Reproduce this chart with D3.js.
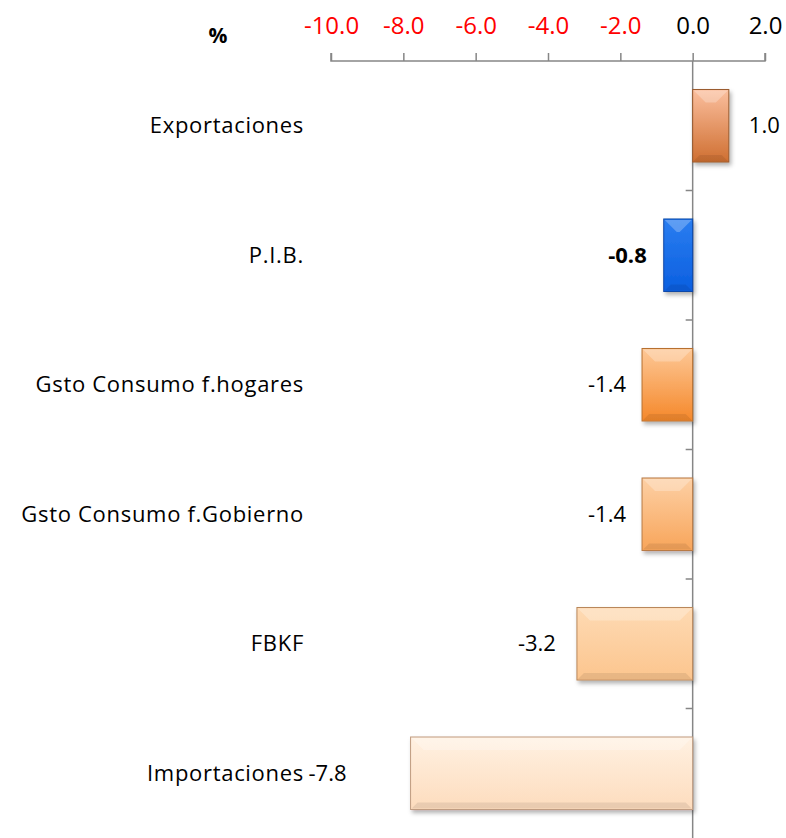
<!DOCTYPE html>
<html>
<head>
<meta charset="utf-8">
<script src="https://d3js.org/d3.v7.min.js"></script>
<style>
  body { margin: 0; background: #fff; }
  svg { display: block; }
  text { font-family: "Open Sans", "Liberation Sans", sans-serif; }
</style>
</head>
<body>
<svg></svg>
<script>
var categories = ["Exportaciones", "P.I.B.", "Gsto Consumo f.hogares", "Gsto Consumo f.Gobierno", "FBKF", "Importaciones"];
var values = [1.0, -0.8, -1.4, -1.4, -3.2, -7.8];
var tickValues = [-10, -8, -6, -4, -2, 0, 2];
var tickLabels = ["-10.0", "-8.0", "-6.0", "-4.0", "-2.0", "0.0", "2.0"];

var width = 786, height = 838;
var axisY = 61;

// colour pairs (top, bottom) per bar
var fills = [
  ["#fbbf9e", "#cf6f31"],
  ["#2a7df0", "#0b5fe0"],
  ["#fdc897", "#f5882a"],
  ["#fdd0a5", "#f8a55a"],
  ["#fedab3", "#fcc58e"],
  ["#fff1e2", "#fddcbd"]
];
var strokes = ["#9a5a2e", "#0a47a8", "#b7702f", "#b87a45", "#b9875a", "#c09c80"];

var svg = d3.select("svg").attr("width", width).attr("height", height);
var defs = svg.append("defs");

var f = defs.append("filter").attr("id", "shadow").attr("x", "-10%").attr("y", "-10%").attr("width", "130%").attr("height", "140%");
f.append("feDropShadow").attr("dx", 2).attr("dy", 3).attr("stdDeviation", 2).attr("flood-color", "#000").attr("flood-opacity", 0.3);

fills.forEach(function(c, i) {
  var g = defs.append("linearGradient").attr("id", "g" + i).attr("x1", 0).attr("y1", 0).attr("x2", 0).attr("y2", 1);
  g.append("stop").attr("offset", "0%").attr("stop-color", c[0]);
  g.append("stop").attr("offset", "100%").attr("stop-color", c[1]);
});

var x = d3.scaleLinear().domain([-10, 2]).range([331, 765]);
var y = d3.scaleBand().domain(categories).range([axisY, axisY + 6 * 129.5]).paddingInner(0.44).paddingOuter(0.22);
var fmt = function(d) { return d3.format(".1f")(d).replace("\u2212", "-"); };

// top axis
var xAxis = d3.axisTop(x).tickValues(tickValues).tickSize(8).tickFormat(function(d, i) { return tickLabels[i]; });
var gx = svg.append("g").attr("transform", "translate(0," + axisY + ")").call(xAxis);
gx.select(".domain").attr("stroke", "#868686").attr("stroke-width", 1.5).attr("d", "M331,-8V0H765V-8");
gx.selectAll(".tick line").attr("stroke", "#868686").attr("stroke-width", 1.5);
gx.selectAll(".tick text")
  .attr("y", -27)
  .attr("font-size", 24)
  .attr("font-family", "Open Sans, sans-serif")
  .attr("fill", function(d) { return d < 0 ? "#ff0000" : "#000"; });

svg.append("text").attr("x", 218).attr("y", 43).attr("text-anchor", "middle")
  .attr("font-size", 21).attr("font-weight", "bold").text("%");

// vertical axis at zero
var gy = svg.append("g").attr("transform", "translate(" + x(0) + ",0)");
gy.append("line").attr("y1", axisY).attr("y2", height).attr("stroke", "#868686").attr("stroke-width", 1.5);
var step = y.step();
d3.range(1, categories.length).forEach(function(k) {
  gy.append("line").attr("x1", -7).attr("x2", 0)
    .attr("y1", axisY + k * step).attr("y2", axisY + k * step)
    .attr("stroke", "#868686").attr("stroke-width", 1.5);
});

// bars
var bars = svg.append("g").selectAll("g.bar").data(values).enter().append("g").attr("class", "bar");
bars.append("rect")
  .attr("x", function(d) { return x(Math.min(0, d)); })
  .attr("y", function(d, i) { return y(categories[i]); })
  .attr("width", function(d) { return Math.abs(x(d) - x(0)); })
  .attr("height", y.bandwidth())
  .attr("fill", function(d, i) { return "url(#g" + i + ")"; })
  .attr("stroke", function(d, i) { return strokes[i]; })
  .attr("stroke-width", 1)
  .attr("filter", "url(#shadow)");

// bevel highlight on top edge
bars.append("path")
  .attr("d", function(d, i) {
    var x0 = x(Math.min(0, d)) + 1, x1 = x(Math.max(0, d)) - 1, y0 = y(categories[i]) + 1, b = 12;
    return "M" + x0 + "," + y0 + "L" + x1 + "," + y0 + "L" + (x1 - b) + "," + (y0 + b) + "L" + (x0 + b) + "," + (y0 + b) + "Z";
  })
  .attr("fill", "#fff").attr("opacity", 0.25);
bars.append("path")
  .attr("d", function(d, i) {
    var x0 = x(Math.min(0, d)) + 1, x1 = x(Math.max(0, d)) - 1, y1 = y(categories[i]) + y.bandwidth() - 1, b = 6;
    return "M" + x0 + "," + y1 + "L" + x1 + "," + y1 + "L" + (x1 - b) + "," + (y1 - b) + "L" + (x0 + b) + "," + (y1 - b) + "Z";
  })
  .attr("fill", "#000").attr("opacity", 0.08);

// value labels
var labelGap = [20, 17, 16, 16, 21, 64];
svg.append("g").selectAll("text").data(values).enter().append("text")
  .attr("x", function(d, i) { return d >= 0 ? x(d) + labelGap[i] : x(d) - labelGap[i]; })
  .attr("y", function(d, i) { return y(categories[i]) + y.bandwidth() / 2; })
  .attr("dy", "0.35em")
  .attr("text-anchor", function(d) { return d >= 0 ? "start" : "end"; })
  .attr("font-size", 22)
  .attr("font-weight", function(d, i) { return categories[i] === "P.I.B." ? "bold" : "normal"; })
  .text(fmt);

// category labels
svg.append("g").selectAll("text").data(categories).enter().append("text")
  .attr("x", 304)
  .attr("y", function(d) { return y(d) + y.bandwidth() / 2; })
  .attr("dy", "0.35em")
  .attr("text-anchor", "end")
  .attr("font-size", 22)
  .attr("letter-spacing", 0.7)
  .text(function(d) { return d; });
</script>
</body>
</html>
